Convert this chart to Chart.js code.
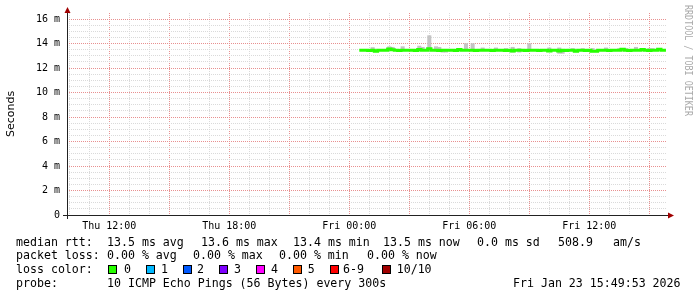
<!DOCTYPE html>
<html>
<head>
<meta charset="utf-8">
<script src="https://cdn.jsdelivr.net/npm/chart.js@4.4.1/dist/chart.umd.min.js"></script>
<style>
body { margin: 0; background: #fff; }
#wrap { position: relative; width: 697px; height: 297px; overflow: hidden; background: #fff; }
#chart { position: absolute; left: 0; top: 0; }
.txt { position: absolute; font-family: 'DejaVu Sans Mono', monospace; font-size: 11.6px; line-height: 14px; color: #000; white-space: pre; }
.box { position: absolute; width: 7px; height: 7px; border: 1px solid #000; }
#mark { position: absolute; left: 683px; top: 5px; writing-mode: vertical-rl; font-family: 'DejaVu Sans Mono', monospace; font-size: 8.4px; color: #aaaaaa; white-space: pre; transform-origin: 0 0; transform: scaleX(1.2); }
</style>
</head>
<body>
<div id="wrap">
  <canvas id="chart" width="697" height="297"></canvas>
  <div id="mark">RRDTOOL / TOBI OETIKER</div>
  <div id="legend"></div>
</div>
<script>
// Smokeping style latency graph (median rtt + smoke)

// time axis in hours since Thu 00:00
const viewStart = 9.885;
const viewEnd = 39.885;
const sampleStart = 24.5;     // Fri 00:30
const sampleStep = 1 / 6;     // 10 minutes

// median rtt (ms), one value per sample
const medianRtt = [
    13.45, 13.46, 13.45, 13.44, 13.45,
    13.38, 13.45, 13.46, 13.45, 13.55,
    13.50, 13.45, 13.44, 13.45, 13.46,
    13.45, 13.45, 13.44, 13.52, 13.46,
    13.45, 13.58, 13.46, 13.45, 13.44,
    13.45, 13.45, 13.46, 13.45, 13.44,
    13.52, 13.45, 13.46, 13.45, 13.45,
    13.44, 13.45, 13.46, 13.45, 13.45,
    13.44, 13.45, 13.46, 13.45, 13.44,
    13.45, 13.40, 13.45, 13.46, 13.45,
    13.44, 13.46, 13.45, 13.45, 13.44,
    13.45, 13.46, 13.40, 13.45, 13.45,
    13.40, 13.45, 13.44, 13.45, 13.46,
    13.38, 13.45, 13.45, 13.44, 13.46,
    13.38, 13.38, 13.45, 13.46, 13.45,
    13.44, 13.45, 13.46, 13.45, 13.53,
    13.45, 13.44, 13.45, 13.46, 13.45,
    13.52, 13.45, 13.44, 13.45, 13.46,
    13.53, 13.45, 13.45
];

// smoke: sample index, lowest and highest ping (ms)
const smokeIdx = [4, 9, 10, 13, 18, 19, 21, 23, 24, 25, 26, 32, 34, 37, 41, 44, 46, 48, 51, 57, 60, 61, 64, 67, 70, 74, 78, 80, 83, 87, 88];
const smokeLo  = [13.45, 13.45, 13.45, 13.45, 13.45, 13.45, 13.45, 13.40, 13.35, 13.30, 13.30, 13.45, 13.45, 13.45, 13.45, 13.35, 13.30, 13.30, 13.45, 13.45, 13.20, 13.20, 13.45, 13.45, 13.45, 13.45, 13.45, 13.45, 13.45, 13.45, 13.45];
const smokeHi  = [13.68, 13.75, 13.70, 13.75, 13.80, 13.70, 14.65, 13.75, 13.70, 13.45, 13.45, 14.00, 14.00, 13.65, 13.65, 13.60, 13.70, 13.60, 14.00, 13.65, 13.65, 13.50, 13.60, 13.60, 13.60, 13.65, 13.60, 13.60, 13.70, 13.60, 13.60];

// y range (ms) and day names for the hour ticks
const yMax = 16.5;
const dayNames = ['Thu', 'Fri'];

// legend texts
const rttStats = ['13.5 ms avg', '13.6 ms max', '13.4 ms min', '13.5 ms now', '0.0 ms sd', '508.9', 'am/s'];
const lossStats = ['0.00 % avg', '0.00 % max', '0.00 % min', '0.00 % now'];
const lossLabels = ['0', '1', '2', '3', '4', '5', '6-9', '10/10'];
const lossColors = ['#26ff00', '#00b8ff', '#0059ff', '#7e00ff', '#ff00ff', '#ff5a00', '#ff0000', '#a10000'];
const probeText = '10 ICMP Echo Pings (56 Bytes) every 300s';
const stampText = 'Fri Jan 23 15:49:53 2026';

// build chart data
const medianPoints = medianRtt.map((v, i) => ({ x: sampleStart + i * sampleStep, y: v }));
const smokePoints = smokeIdx.map((idx, k) => ({ x: sampleStart + idx * sampleStep, y: [smokeLo[k], smokeHi[k]] }));

const monoFont = { family: "'DejaVu Sans Mono', monospace", size: 10 };
const majorGrid = '#e89090';
const minorGrid = '#dadada';

// axes + arrows like rrdtool
const axisArrows = {
    id: 'axisArrows',
    afterDraw(chart) {
        const { ctx, chartArea: a } = chart;
        const x0 = Math.round(a.left) + 0.5;
        const y0 = Math.round(a.bottom) + 0.5;
        ctx.save();
        ctx.strokeStyle = '#222';
        ctx.lineWidth = 1;
        ctx.beginPath();
        ctx.moveTo(a.left - 4, y0);
        ctx.lineTo(a.right + 2, y0);
        ctx.moveTo(x0, a.bottom + 4);
        ctx.lineTo(x0, a.top - 1);
        ctx.stroke();
        ctx.fillStyle = '#a00000';
        ctx.beginPath();
        ctx.moveTo(x0, a.top - 6);
        ctx.lineTo(x0 - 3, a.top);
        ctx.lineTo(x0 + 3, a.top);
        ctx.closePath();
        ctx.fill();
        ctx.beginPath();
        ctx.moveTo(a.right + 7, y0);
        ctx.lineTo(a.right + 1, y0 - 3);
        ctx.lineTo(a.right + 1, y0 + 3);
        ctx.closePath();
        ctx.fill();
        ctx.restore();
    }
};

new Chart(document.getElementById('chart').getContext('2d'), {
    type: 'bar',
    data: {
        datasets: [
            {
                type: 'line',
                data: medianPoints,
                borderColor: '#26ff00',
                borderWidth: 3,
                pointRadius: 0,
                stepped: 'middle',
                order: 0
            },
            {
                type: 'bar',
                data: smokePoints,
                backgroundColor: '#c4c4c4',
                borderWidth: 0,
                barThickness: 3.4,
                order: 1
            }
        ]
    },
    options: {
        responsive: false,
        animation: false,
        devicePixelRatio: 1,
        layout: { padding: { left: 0, top: 13, right: 30, bottom: 62 } },
        plugins: {
            legend: { display: false },
            tooltip: { enabled: false }
        },
        scales: {
            x: {
                type: 'linear',
                min: viewStart,
                max: viewEnd,
                offset: false,
                afterFit: s => { s.height = 20; },
                afterBuildTicks: s => {
                    const t = [];
                    for (let h = Math.ceil(viewStart); h <= viewEnd; h++) t.push({ value: h });
                    s.ticks = t;
                },
                ticks: {
                    autoSkip: false,
                    maxRotation: 0,
                    padding: 5,
                    color: '#000',
                    font: monoFont,
                    callback: v => {
                        if (v % 6 !== 0) return '';
                        const h = v % 24;
                        return dayNames[Math.floor(v / 24)] + ' ' + String(h).padStart(2, '0') + ':00';
                    }
                },
                grid: {
                    offset: false,
                    drawTicks: false,
                    lineWidth: 1,
                    color: c => (c.tick && c.tick.value % 3 === 0) ? majorGrid : minorGrid
                },
                border: { display: false, dash: [1, 1] }
            },
            y: {
                min: 0,
                max: yMax,
                afterFit: s => { s.width = 67; },
                afterBuildTicks: s => {
                    const t = [];
                    for (let i = 0; i <= 32; i++) t.push({ value: i * 0.5 });
                    s.ticks = t;
                },
                ticks: {
                    autoSkip: false,
                    padding: 7,
                    color: '#000',
                    font: monoFont,
                    callback: v => v === 0 ? '0' : (v % 2 === 0 ? v + ' m' : '')
                },
                title: {
                    display: true,
                    text: 'Seconds',
                    color: '#000',
                    padding: { top: 5, bottom: 0 },
                    font: { family: "'DejaVu Sans', sans-serif", size: 11 }
                },
                grid: {
                    drawTicks: false,
                    lineWidth: 1,
                    color: c => (c.tick && c.tick.value % 2 === 0) ? majorGrid : minorGrid
                },
                border: { display: false, dash: [1, 1] }
            }
        }
    },
    plugins: [axisArrows]
});

// legend text below the graph
const legend = document.getElementById('legend');
function addText(x, y, s) {
    const d = document.createElement('div');
    d.className = 'txt';
    d.style.left = x + 'px';
    d.style.top = y + 'px';
    d.textContent = s;
    legend.appendChild(d);
}
const rowTop = [235, 248, 262, 276];
const rttX = [107, 201, 293, 383, 477, 558, 613];
const lossX = [107, 193, 279, 367];
const boxX = [108, 145.7, 182.7, 219, 256, 292.7, 330, 382];
const boxLabelX = [124, 161, 197, 234, 271, 307.7, 343, 396.7];

addText(16, rowTop[0], 'median rtt:');
rttStats.forEach((s, i) => addText(rttX[i], rowTop[0], s));
addText(16, rowTop[1], 'packet loss:');
lossStats.forEach((s, i) => addText(lossX[i], rowTop[1], s));
addText(16, rowTop[2], 'loss color:');
lossLabels.forEach((s, i) => {
    const b = document.createElement('div');
    b.className = 'box';
    b.style.left = boxX[i] + 'px';
    b.style.top = '265px';
    b.style.background = lossColors[i];
    legend.appendChild(b);
    addText(boxLabelX[i], rowTop[2], s);
});
addText(16, rowTop[3], 'probe:');
addText(107, rowTop[3], probeText);
addText(513, rowTop[3], stampText);
</script>
</body>
</html>
